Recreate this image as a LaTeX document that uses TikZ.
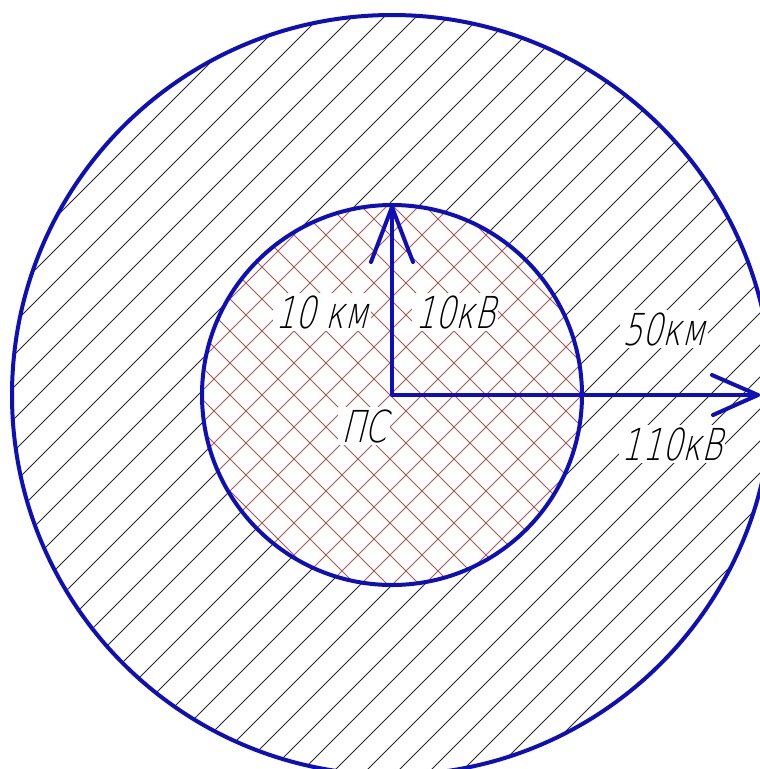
\documentclass[tikz,border=0pt]{standalone}
\usepackage{fontspec}
\newfontfamily\gost[FakeSlant=0.25,FakeStretch=0.72]{DejaVu Sans ExtraLight}
\definecolor{ringblue}{RGB}{15,15,185}
\definecolor{hatchred}{RGB}{175,85,85}
\begin{document}
\begin{tikzpicture}[x=0.75pt,y=-0.75pt,
  rim/.style={draw=ringblue,line width=3pt},
  arr/.style={draw=ringblue,line width=3pt,line cap=round,line join=round},
  lbl/.style={font=\gost\fontsize{33}{36}\selectfont,inner sep=2pt,fill=white,text=black},
  hatch/.style={draw=black!85,line width=0.6pt},
  xhatch/.style={draw=hatchred,line width=0.55pt}]
\useasboundingbox (0,0) rectangle (760,769);
\coordinate (O) at (392,395);
% outer ring hatching: lines rising to the right (x+y = const, y downward)
\begin{scope}
  \clip (O) circle (380);
  \foreach \k in {0,...,48} {\draw[hatch] (0,17+32*\k) -- (17+32*\k,0);}
\end{scope}
% inner circle cross-hatching
\fill[white] (O) circle (190);
\begin{scope}
  \clip (O) circle (190);
  \foreach \k in {0,...,48} {\draw[xhatch] (0,17+32*\k) -- (17+32*\k,0);}
  \foreach \k in {-25,...,24} {\draw[xhatch] (27+32*\k,0) -- (827+32*\k,800);}
\end{scope}
% labels
\node[lbl] (lkm) at (322,312) {10 км};
\node[lbl] (lkv) at (455,312) {10кВ};
\node[lbl] (lps) at (364,426) {ПС};
\node[lbl] (okm) at (664,329) {50км};
\node[lbl] (okv) at (672,444) {110кВ};
% circles
\draw[rim] (O) circle (380);
\draw[rim] (O) circle (190);
% arrows
\coordinate (T) at (392,207);
\coordinate (Tl) at (371,262);
\coordinate (Tr) at (413,262);
\coordinate (R) at (758,395);
\coordinate (Ru) at (712,375);
\coordinate (Rd) at (713,415);
\draw[arr] (O) -- (T);
\draw[arr] (Tl) -- (T) -- (Tr);
\draw[arr] (O) -- (R);
\draw[arr] (Ru) -- (R) -- (Rd);
\end{tikzpicture}
\end{document}
